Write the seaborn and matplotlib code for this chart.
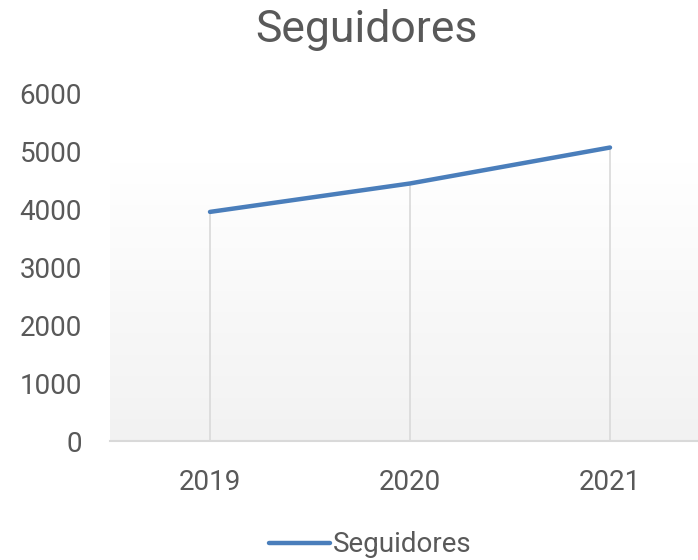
import matplotlib
matplotlib.use('Agg')
import matplotlib.pyplot as plt
import seaborn as sns
import numpy as np
import pandas as pd

years = ['2019', '2020', '2021']
seguidores = [3950, 4440, 5060]
y_ticks = [0, 1000, 2000, 3000, 4000, 5000, 6000]

sns.set_style('white')
plt.rcParams['font.family'] = ['Roboto', 'DejaVu Sans']

df = pd.DataFrame({'year': years, 'value': seguidores, 'pos': range(len(years))})

fig = plt.figure(figsize=(6.98, 5.6), dpi=100)
ax = fig.add_axes([110 / 698, 1 - 441 / 560, 600 / 698, (441 - 93) / 560])

# soft gray gradient behind the plot area, like the Excel default fill
grad = np.linspace(0, 1, 256).reshape(-1, 1)
cmap = matplotlib.colors.LinearSegmentedColormap.from_list('bg', ['#f2f2f2', '#ffffff'])
ax.imshow(grad, extent=(-0.5, 2.5, 0, 4800), origin='lower', aspect='auto',
          cmap=cmap, zorder=0)

# drop lines
ax.vlines(df['pos'], 0, df['value'], color='#d9d9d9', linewidth=1.2, zorder=1)

sns.lineplot(data=df, x='pos', y='value', color='#4a7ebb', linewidth=3.2,
             ax=ax, label='Seguidores', zorder=3, solid_capstyle='round')

ax.set_xlim(-0.5, 2.5)
ax.set_ylim(0, 6000)
ax.set_yticks(y_ticks)
ax.set_yticklabels([str(t) for t in y_ticks])
ax.set_xticks(df['pos'])
ax.set_xticklabels(years)
ax.tick_params(axis='both', length=0, labelsize=20, colors='#595959')
ax.tick_params(axis='x', pad=20)
ax.tick_params(axis='y', pad=20)
ax.set_xlabel('')
ax.set_ylabel('')

for side in ['top', 'right', 'left']:
    ax.spines[side].set_visible(False)
ax.spines['bottom'].set_color('#d9d9d9')
ax.spines['bottom'].set_linewidth(1.5)

fig.text(367 / 698, 1 - 30 / 560, 'Seguidores', ha='center', va='center',
         fontsize=32, color='#595959')

ax.legend(loc='center', bbox_to_anchor=(370 / 698, 1 - 545 / 560),
          bbox_transform=fig.transFigure, frameon=False, fontsize=20,
          handlelength=2.2, handletextpad=0.1, labelcolor='#595959')

plt.savefig('out.png', dpi=100)
plt.close()
